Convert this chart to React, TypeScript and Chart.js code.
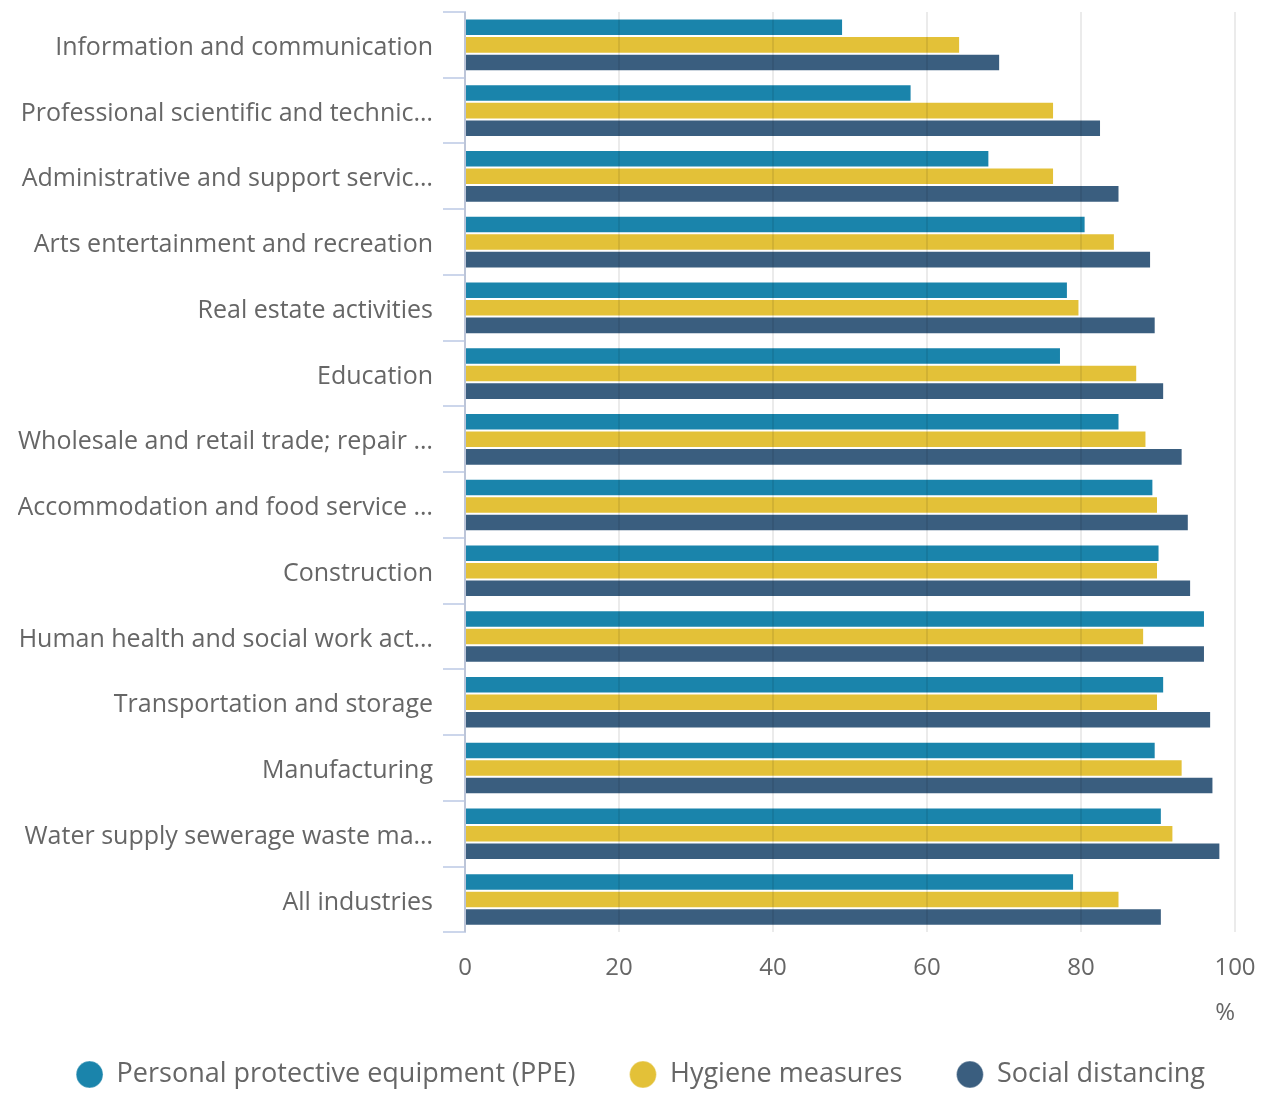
import React, { useEffect, useRef } from "react";
import { Chart, registerables } from "chart.js";

Chart.register(...registerables);

const categories = [
  "Information and communication",
  "Professional scientific and technic…",
  "Administrative and support servic…",
  "Arts entertainment and recreation",
  "Real estate activities",
  "Education",
  "Wholesale and retail trade; repair …",
  "Accommodation and food service …",
  "Construction",
  "Human health and social work act…",
  "Transportation and storage",
  "Manufacturing",
  "Water supply sewerage waste ma…",
  "All industries",
];

const ppeValues = [49.1, 58.0, 68.1, 80.6, 78.3, 77.4, 85.0, 89.4, 90.2, 96.1, 90.8, 89.7, 90.5, 79.1];
const hygieneValues = [64.3, 76.5, 76.5, 84.4, 79.8, 87.3, 88.5, 90.0, 90.0, 88.2, 90.0, 93.2, 92.0, 85.0];
const distancingValues = [69.5, 82.6, 85.0, 89.1, 89.7, 90.8, 93.2, 94.0, 94.3, 96.1, 96.9, 97.2, 98.1, 90.5];

const seriesNames = ["Personal protective equipment (PPE)", "Hygiene measures", "Social distancing"];
const seriesColors = ["#1a84ab", "#e3c138", "#3a5e7f"];
const xTicks = [0, 20, 40, 60, 80, 100];
const axisUnit = "%";

const FONT = "'Open Sans', 'Noto Sans', sans-serif";
const W = 1263;
const H = 1098;
const PAD_LEFT = 18;
const PLOT_LEFT = 465;
const PLOT_RIGHT_GAP = 28;

export default function App() {
  const canvasRef = useRef<HTMLCanvasElement | null>(null);

  useEffect(() => {
    if (!canvasRef.current) return;
    const series = [ppeValues, hygieneValues, distancingValues];
    const chart = new Chart(canvasRef.current, {
      type: "bar",
      data: {
        labels: categories,
        datasets: series.map((vals, i) => ({
          label: seriesNames[i],
          data: vals,
          backgroundColor: seriesColors[i],
          borderColor: "rgba(255,255,255,0.35)",
          borderWidth: 1,
          categoryPercentage: 0.8,
          barPercentage: 1.0,
        })),
      },
      options: {
        indexAxis: "y",
        animation: false,
        responsive: false,
        maintainAspectRatio: false,
        layout: { padding: { top: 12, right: 0, left: PAD_LEFT, bottom: 0 } },
        scales: {
          x: {
            type: "linear",
            min: xTicks[0],
            max: xTicks[xTicks.length - 1],
            position: "bottom",
            afterBuildTicks: (scale: any) => {
              scale.ticks = xTicks.map((v) => ({ value: v }));
            },
            afterFit: (scale: any) => {
              scale.paddingLeft = 0;
              scale.paddingRight = PLOT_RIGHT_GAP;
            },
            grid: {
              color: "rgba(0,0,0,0.08)",
              lineWidth: 2,
              drawTicks: false,
              z: 1,
            },
            border: { display: false },
            ticks: {
              color: "#666666",
              font: { family: FONT, size: 24 },
              padding: 21,
            },
            title: {
              display: true,
              text: axisUnit,
              align: "end",
              color: "#666666",
              font: { family: FONT, size: 24 },
              padding: { top: -4, bottom: -21 },
            },
          },
          y: {
            type: "category",
            afterFit: (scale: any) => {
              scale.width = PLOT_LEFT - PAD_LEFT;
              scale.paddingTop = 0;
              scale.paddingBottom = 0;
            },
            grid: {
              drawOnChartArea: false,
              color: "#ccd6eb",
              lineWidth: 2,
              tickLength: 22,
              offset: true,
            },
            border: { display: true, color: "#ccd6eb", width: 2 },
            ticks: {
              color: "#666666",
              font: { family: FONT, size: 25 },
              padding: 10,
              labelOffset: 3,
              autoSkip: false,
            },
          },
        },
        plugins: {
          legend: {
            position: "bottom",
            labels: {
              usePointStyle: true,
              pointStyle: "circle",
              boxWidth: 27,
              boxHeight: 19,
              padding: 54,
              color: "#666666",
              font: { family: FONT, size: 27 },
            },
          },
          tooltip: { enabled: false },
        },
      },
    });
    return () => chart.destroy();
  }, []);

  return (
    <div style={{ position: "fixed", left: 0, top: 0, width: W, height: H, background: "#fff" }}>
      <canvas ref={canvasRef} width={W} height={H} style={{ width: W, height: H, display: "block" }} />
    </div>
  );
}
